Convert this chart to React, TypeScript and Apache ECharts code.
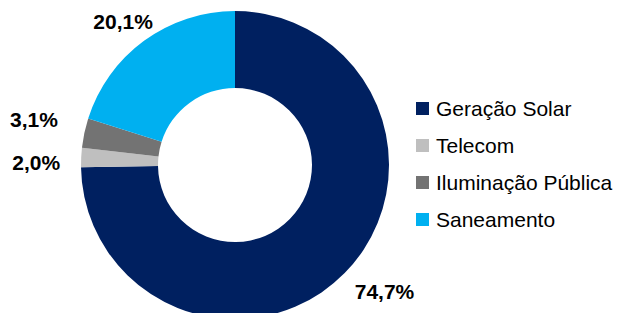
import React, { useEffect, useRef } from "react";
import * as echarts from "echarts";

const categories = ["Geração Solar", "Telecom", "Iluminação Pública", "Saneamento"];
const values = [74.7, 2.0, 3.1, 20.1];
const colors = ["#002060", "#BFBFBF", "#737373", "#00B0F0"];
const labelShift = [
  { dx: -12, dy: 2 },
  { dx: 8, dy: 6 },
  { dx: 2, dy: -9 },
  { dx: 28, dy: 0 },
];

export default function App() {
  const ref = useRef<HTMLDivElement>(null);
  useEffect(() => {
    if (!ref.current) return;
    const chart = echarts.init(ref.current, null, { renderer: "svg" });
    chart.setOption({
      animation: false,
      backgroundColor: "#ffffff",
      legend: {
        orient: "vertical",
        left: 416,
        top: 98,
        padding: 0,
        itemWidth: 13,
        itemHeight: 13,
        itemGap: 16,
        icon: "rect",
        data: categories,
        textStyle: {
          fontFamily: "Liberation Sans, Arial, sans-serif",
          fontSize: 21,
          lineHeight: 21,
          color: "#000000",
          padding: [0, 0, 0, 2],
        },
      },
      series: [
        {
          type: "pie",
          center: [235, 165],
          radius: [77, 154],
          startAngle: 90,
          clockwise: true,
          avoidLabelOverlap: false,
          itemStyle: { borderWidth: 0 },
          label: {
            show: true,
            position: "outside",
            formatter: (p: any) => p.value.toFixed(1).replace(".", ",") + "%",
            fontFamily: "Liberation Sans, Arial, sans-serif",
            fontSize: 21,
            fontWeight: "bold",
            color: "#000000",
          },
          labelLine: { show: false, length: 24, length2: 0 },
          labelLayout: (params: any) => labelShift[params.dataIndex],
          emphasis: { disabled: true },
          data: categories.map((name, i) => ({
            name,
            value: values[i],
            itemStyle: { color: colors[i] },
          })),
        },
      ],
    });
    return () => chart.dispose();
  }, []);
  return (
    <div
      ref={ref}
      style={{ position: "fixed", left: 0, top: 0, width: 619, height: 313 }}
    />
  );
}
